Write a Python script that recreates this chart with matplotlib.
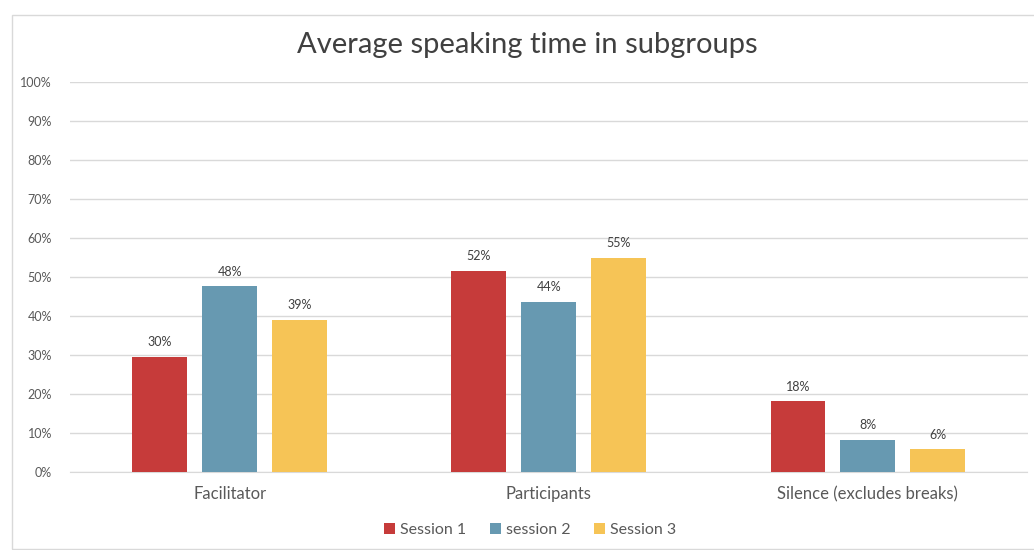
import numpy as np
import matplotlib.pyplot as plt
from matplotlib.patches import Rectangle

categories = ["Facilitator", "Participants", "Silence (excludes breaks)"]
series_names = ["Session 1", "session 2", "Session 3"]
session1 = [29.6, 51.6, 18.1]
session2 = [47.6, 43.6, 8.2]
session3 = [39.0, 55.0, 5.8]
colors = ["#C63B3A", "#6799B1", "#F6C456"]

plt.rcParams['font.family'] = ['Lato', 'DejaVu Sans']
text_col = "#595959"

fig = plt.figure(figsize=(10.34, 5.5), dpi=100)
fig.patches.append(Rectangle((12 / 1034, 0.002), 1.5, 1 - 15 / 550 - 0.002,
                             transform=fig.transFigure, fill=False,
                             edgecolor="#d9d9d9", linewidth=1))
ax = fig.add_axes([70 / 1034, 1 - 472 / 550, 957.5 / 1034, 390 / 550])

x = np.arange(len(categories))
width = 0.172
step = 0.219
for i, (vals, name) in enumerate(zip([session1, session2, session3], series_names)):
    bars = ax.bar(x + (i - 1) * step, vals, width, color=colors[i], label=name, zorder=3)
    for b, v in zip(bars, vals):
        ax.text(b.get_x() + b.get_width() / 2, v + 2.2, f"{v:.0f}%", ha="center",
                va="bottom", fontsize=9, color="#404040")

ax.set_xlim(-0.5, 2.5)
ax.set_ylim(0, 100)
ax.set_yticks(range(0, 101, 10))
ax.set_yticklabels([f"{t}%" for t in range(0, 101, 10)], fontsize=9, color=text_col)
ax.set_xticks(x)
ax.set_xticklabels(categories, fontsize=12, color=text_col)
ax.tick_params(axis="both", length=0)
ax.tick_params(axis="y", pad=13)
ax.tick_params(axis="x", pad=10)
ax.grid(axis="y", color="#d9d9d9", linewidth=1, zorder=0)
for s in ["top", "right", "left"]:
    ax.spines[s].set_visible(False)
ax.spines["bottom"].set_color("#d9d9d9")

fig.text(527 / 1034, 1 - 45 / 550, "Average speaking time in subgroups", ha="center",
         va="center", fontsize=21, color="#404040")

fig.legend(loc="center", bbox_to_anchor=(530 / 1034, 1 - 530 / 550), ncol=3,
           frameon=False, fontsize=11.5, handlelength=0.7, handleheight=0.7,
           handletextpad=0.3, columnspacing=1.5, labelcolor=text_col)

fig.savefig("out.png", dpi=100)
